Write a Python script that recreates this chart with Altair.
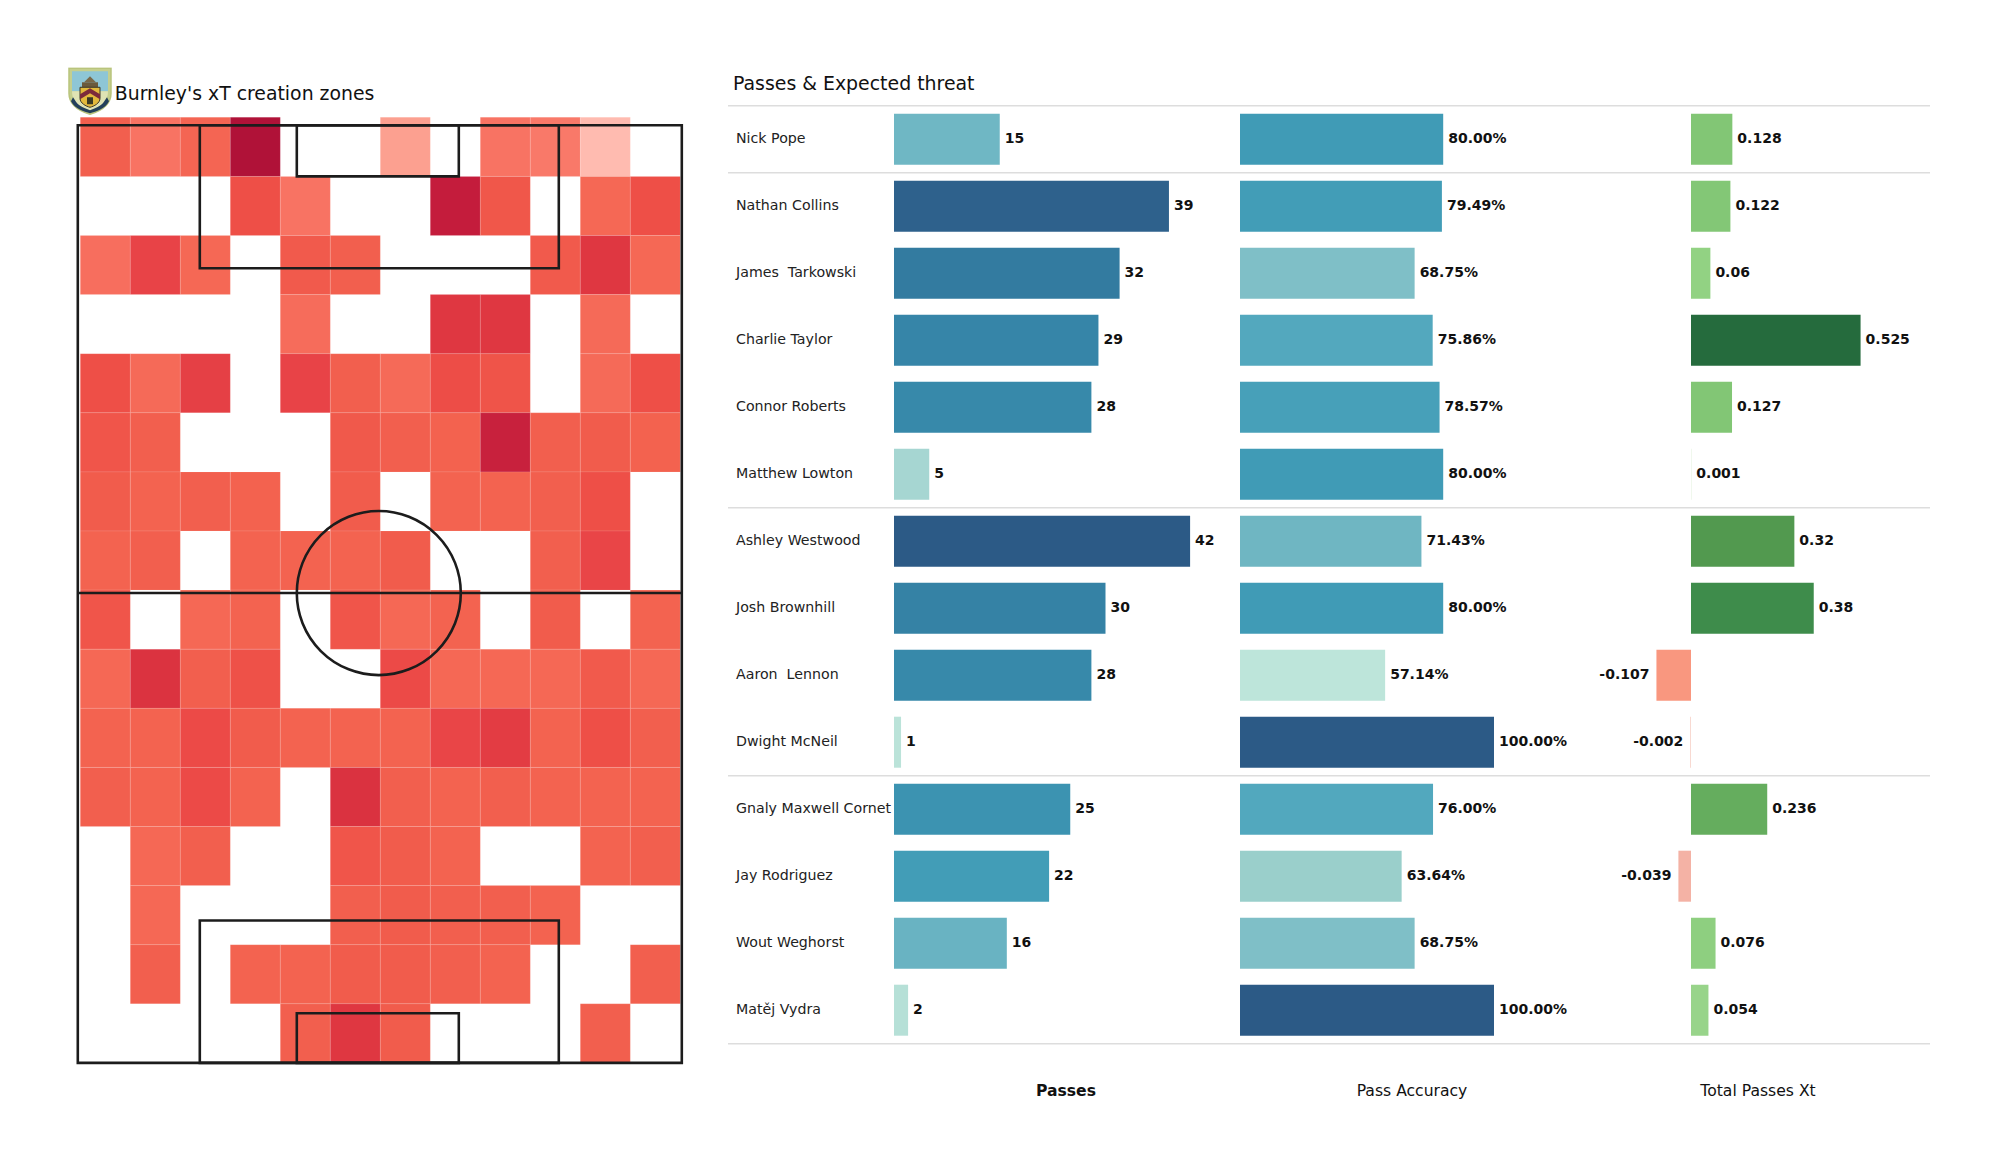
import base64
import altair as alt
import pandas as pd

FONT = "DejaVu Sans"

# ---- heat map (levels, 0 = empty cell)
grid = [
    [4.0, 3.0, 3.6, 10.0, 0, 0, 1.5, 0, 3.0, 2.8, 1.0, 0],
    [0, 0, 0, 5.0, 3.0, 0, 0, 9.0, 4.5, 0, 3.5, 5.0],
    [3.2, 6.0, 3.5, 0, 4.3, 4.0, 0, 0, 0, 4.3, 7.0, 3.5],
    [0, 0, 0, 0, 3.3, 0, 0, 7.0, 7.0, 0, 3.4, 0],
    [5.0, 3.4, 6.3, 0, 6.0, 4.0, 3.4, 5.2, 4.7, 0, 3.4, 5.0],
    [4.6, 4.0, 0, 0, 0, 4.4, 4.0, 3.8, 8.7, 4.0, 4.2, 3.8],
    [4.2, 3.7, 4.0, 3.8, 0, 4.2, 0, 3.7, 3.7, 4.0, 5.0, 0],
    [3.7, 4.0, 0, 3.7, 3.7, 3.7, 4.2, 0, 0, 4.0, 5.8, 0],
    [4.6, 0, 3.5, 3.7, 0, 4.6, 3.5, 3.7, 0, 4.2, 0, 3.7],
    [3.5, 7.3, 4.0, 4.9, 0, 0, 5.4, 3.5, 3.5, 3.5, 4.3, 3.5],
    [3.7, 3.7, 5.4, 4.2, 3.7, 3.7, 3.7, 5.8, 6.6, 3.7, 5.0, 4.0],
    [4.0, 3.7, 5.4, 3.7, 0, 7.4, 4.0, 3.7, 4.0, 3.7, 3.7, 3.7],
    [0, 3.5, 4.0, 0, 0, 4.6, 4.2, 3.7, 0, 0, 3.7, 4.0],
    [0, 3.5, 0, 0, 0, 4.0, 4.2, 4.0, 4.0, 3.7, 0, 0],
    [0, 4.0, 0, 3.7, 3.7, 4.2, 4.2, 4.0, 3.7, 0, 0, 4.0],
    [0, 0, 0, 0, 4.0, 7.0, 4.2, 0, 0, 0, 4.0, 0],
]
heat_levels = [1.0, 1.5, 3.0, 3.7, 5.0, 6.0, 7.0, 9.0, 10.0]
heat_colors = ["#ffbbb0", "#fca090", "#f87363", "#f36350", "#ee4f47", "#e84347", "#df3741", "#c41c3c", "#b01238"]

# pitch outline, in heat-map cell units
pitch_boxes = [
    (-0.05, 0.135, 12.03, 16.0),
    (2.39, 0.135, 9.57, 2.555),
    (4.33, 0.135, 7.57, 1.0),
    (2.39, 13.59, 9.57, 16.0),
    (4.33, 15.16, 7.57, 16.0),
]
halfway_y = 8.05
centre_x = 5.97

# ---- player table
players = ["Nick Pope", "Nathan Collins", "James \u00a0Tarkowski", "Charlie Taylor", "Connor Roberts",
           "Matthew Lowton", "Ashley Westwood", "Josh Brownhill", "Aaron \u00a0Lennon", "Dwight McNeil",
           "Gnaly Maxwell Cornet", "Jay Rodriguez", "Wout Weghorst", "Matěj Vydra"]
passes = [15, 39, 32, 29, 28, 5, 42, 30, 28, 1, 25, 22, 16, 2]
accuracy = [80.00, 79.49, 68.75, 75.86, 78.57, 80.00, 71.43, 80.00, 57.14, 100.00, 76.00, 63.64, 68.75, 100.00]
threat = [0.128, 0.122, 0.06, 0.525, 0.127, 0.001, 0.32, 0.38, -0.107, -0.002, 0.236, -0.039, 0.076, 0.054]
threat_text = ["0.128", "0.122", "0.06", "0.525", "0.127", "0.001", "0.32", "0.38", "-0.107", "-0.002",
               "0.236", "-0.039", "0.076", "0.054"]
separators = [-0.5, 0.5, 5.5, 9.5, 13.5]
headers = ["Passes", "Pass Accuracy", "Total Passes Xt"]

passes_dom = [1, 5, 15, 22, 28, 32, 39, 42]
passes_rng = ["#bbe3d9", "#a6d6d2", "#6fb7c4", "#429db7", "#3789aa", "#337ba0", "#2e618c", "#2c5a86"]
acc_dom = [57.14, 63.64, 68.75, 71.43, 76, 80, 100]
acc_rng = ["#bde5da", "#9acfcb", "#7fbfc7", "#6fb6c2", "#52a8be", "#409bb6", "#2c5a86"]
xt_dom = [-0.107, -0.039, -0.002, 0.001, 0.06, 0.127, 0.236, 0.32, 0.38, 0.525]
xt_rng = ["#f9977f", "#f4b2a5", "#f4c4b8", "#cfe8c8", "#92d283", "#82c675", "#65ad5e", "#52994f", "#3e8c4b", "#256b3d"]

# ---- layout (page pixels)
PANEL_TOP, PANEL_H = 8, 1100
PITCH_LEFT, PITCH_W = 8, 700
STATS_LEFT, STATS_W = 708, 1284
CELL_X0, CELL_W, CELL_Y0, CELL_H = 80.3, 50.0, 117.3, 59.1
ROW_Y0, ROW_H = 139.2, 67.0
BAR_H = 51


def domain(zero_px, px_per_unit, left, size):
    return [(left - zero_px) / px_per_unit, (left + size - zero_px) / px_per_unit]


def pitch_x():
    return alt.Scale(domain=domain(CELL_X0, CELL_W, PITCH_LEFT, PITCH_W), nice=False, zero=False)


def pitch_y():
    lo, hi = domain(CELL_Y0, CELL_H, PANEL_TOP, PANEL_H)
    return alt.Scale(domain=[lo, hi], reverse=True, nice=False, zero=False)


def row_y():
    lo, hi = domain(ROW_Y0, ROW_H, PANEL_TOP, PANEL_H)
    return alt.Scale(domain=[lo, hi], reverse=True, nice=False, zero=False, padding=0)


# ---- pitch panel
cells = pd.DataFrame(
    [{"c": c, "c2": c + 1, "r": r, "r2": r + 1, "v": v}
     for r, row in enumerate(grid) for c, v in enumerate(row) if v > 0]
)
heat = alt.Chart(cells).mark_rect(stroke="#ffffff", strokeWidth=0.6, strokeOpacity=0.18).encode(
    x=alt.X("c:Q", scale=pitch_x(), axis=None),
    x2="c2:Q",
    y=alt.Y("r:Q", scale=pitch_y(), axis=None),
    y2="r2:Q",
    color=alt.Color("v:Q", scale=alt.Scale(domain=heat_levels, range=heat_colors), legend=None),
)
boxes = pd.DataFrame(pitch_boxes, columns=["a", "b", "a2", "b2"])
box_marks = alt.Chart(boxes).mark_rect(fillOpacity=0, stroke="#1c1c1c", strokeWidth=2.6).encode(
    x=alt.X("a:Q", scale=pitch_x(), axis=None),
    x2="a2:Q",
    y=alt.Y("b:Q", scale=pitch_y(), axis=None),
    y2="b2:Q",
)
half = alt.Chart(pd.DataFrame({"a": [-0.05], "a2": [12.03], "b": [halfway_y]})).mark_rule(
    color="#1c1c1c", strokeWidth=2.6
).encode(
    x=alt.X("a:Q", scale=pitch_x(), axis=None),
    x2="a2:Q",
    y=alt.Y("b:Q", scale=pitch_y(), axis=None),
)
centre = alt.Chart(pd.DataFrame({"a": [centre_x], "b": [halfway_y]})).mark_point(
    shape="circle", filled=False, size=164 ** 2, color="#1c1c1c", strokeWidth=2.6, opacity=1
).encode(
    x=alt.X("a:Q", scale=pitch_x(), axis=None),
    y=alt.Y("b:Q", scale=pitch_y(), axis=None),
)
title_left = alt.Chart(pd.DataFrame({"a": [0.69], "b": [-0.39], "t": ["Burnley's xT creation zones"]})).mark_text(
    font=FONT, fontSize=18.85, align="left", baseline="middle", color="#111111"
).encode(
    x=alt.X("a:Q", scale=pitch_x(), axis=None),
    y=alt.Y("b:Q", scale=pitch_y(), axis=None),
    text="t:N",
)

crest_svg = """<svg xmlns='http://www.w3.org/2000/svg' width='44' height='48' viewBox='0 0 44 48'>
<path d='M1 1H43V26C43 38 32 44 22 47C12 44 1 38 1 26Z' fill='#c5cf8e' stroke='#b9c47c' stroke-width='1.5'/>
<path d='M4 4H40V24H4Z' fill='#8ec6d6'/>
<path d='M4 24H40C40 36 30 41 22 44C14 41 4 36 4 24Z' fill='#dfe3b4'/>
<rect x='14' y='15' width='16' height='5' fill='#6b5a3c'/><path d='M16 15L22 9L28 15Z' fill='#7a6848'/>
<path d='M12 20H32V31C32 36 26 39 22 40C18 39 12 36 12 31Z' fill='#e2b93c' stroke='#3a3524'/>
<path d='M12 27L22 21L32 27V32L22 26L12 32Z' fill='#7c2b3a'/>
<path d='M19 30H25V37H19Z' fill='#3a3a24'/>
<path d='M5 30C8 34 9 38 17 41L22 43L27 41C35 38 36 34 39 30L41 34C37 42 28 44 22 46C16 44 7 42 3 34Z' fill='#23405a'/>
</svg>"""
crest_url = "data:image/svg+xml;base64," + base64.b64encode(crest_svg.encode()).decode()
crest = alt.Chart(pd.DataFrame({"a": [0.194], "b": [-0.44], "u": [crest_url]})).mark_image(
    width=44, height=48
).encode(
    x=alt.X("a:Q", scale=pitch_x(), axis=None),
    y=alt.Y("b:Q", scale=pitch_y(), axis=None),
    url="u:N",
)

pitch = alt.layer(heat, box_marks, half, centre, crest, title_left).properties(width=PITCH_W, height=PANEL_H)

# ---- stats panel
df = pd.DataFrame({"row": range(len(players)), "player": players, "passes": passes, "accuracy": accuracy,
                   "threat": threat, "threat_text": threat_text})
df["accuracy_text"] = df["accuracy"].map(lambda v: f"{v:.2f}%")
Y = alt.Y("row:Q", scale=row_y(), axis=None)


def bar_layers(field, zero_px, px_per_unit, color_dom, color_rng):
    sc = alt.Scale(domain=domain(zero_px, px_per_unit, STATS_LEFT, STATS_W), nice=False, zero=False)
    return alt.Chart(df).mark_bar(size=BAR_H, orient="horizontal").encode(
        x=alt.X(f"{field}:Q", scale=sc, axis=None),
        x2=alt.X2(datum=0),
        y=Y,
        color=alt.Color(f"{field}:Q", scale=alt.Scale(domain=color_dom, range=color_rng), legend=None),
    ), sc


passes_bar, passes_sc = bar_layers("passes", 894, 7.05, passes_dom, passes_rng)
acc_bar, acc_sc = bar_layers("accuracy", 1240, 2.54, acc_dom, acc_rng)
xt_bar, xt_sc = bar_layers("threat", 1691, 323.0, xt_dom, xt_rng)

passes_lab = alt.Chart(df).mark_text(font=FONT, fontSize=14, fontWeight="bold", align="left", baseline="middle",
                                     dx=5, color="#111111").encode(
    x=alt.X("passes:Q", scale=passes_sc, axis=None), y=Y, text="passes:Q")
acc_lab = alt.Chart(df).mark_text(font=FONT, fontSize=14, fontWeight="bold", align="left", baseline="middle",
                                  dx=5, color="#111111").encode(
    x=alt.X("accuracy:Q", scale=acc_sc, axis=None), y=Y, text="accuracy_text:N")
xt_pos = alt.Chart(df[df.threat >= 0]).mark_text(font=FONT, fontSize=14, fontWeight="bold", align="left",
                                                 baseline="middle", dx=5, color="#111111").encode(
    x=alt.X("threat:Q", scale=xt_sc, axis=None), y=Y, text="threat_text:N")
xt_neg = alt.Chart(df[df.threat < 0]).mark_text(font=FONT, fontSize=14, fontWeight="bold", align="right",
                                                baseline="middle", dx=-7, color="#111111").encode(
    x=alt.X("threat:Q", scale=xt_sc, axis=None), y=Y, text="threat_text:N")

names = alt.Chart(df).mark_text(font=FONT, fontSize=14.2, align="left", baseline="middle", color="#222222").encode(
    x=alt.value(736 - STATS_LEFT), y=Y, text="player:N")

rules = alt.Chart(pd.DataFrame({"row": separators})).mark_rule(color="#dddddd", strokeWidth=1.4).encode(
    x=alt.value(728 - STATS_LEFT), x2=alt.value(1930 - STATS_LEFT), y=Y)

title_right = alt.Chart(pd.DataFrame({"row": [-0.82], "t": ["Passes & Expected threat"]})).mark_text(
    font=FONT, fontSize=18.9, align="left", baseline="middle", color="#111111"
).encode(x=alt.value(733 - STATS_LEFT), y=Y, text="t:N")


def header(text, page_x, weight):
    return alt.Chart(pd.DataFrame({"row": [14.2], "t": [text]})).mark_text(
        font=FONT, fontSize=15.6, fontWeight=weight, align="center", baseline="middle", color="#111111"
    ).encode(x=alt.value(page_x - STATS_LEFT), y=Y, text="t:N")


stats = alt.layer(
    rules, names, title_right,
    passes_bar, passes_lab, acc_bar, acc_lab, xt_bar, xt_pos, xt_neg,
    header(headers[0], 1066, "bold"), header(headers[1], 1412, "normal"), header(headers[2], 1758, "normal"),
).resolve_scale(x="independent", color="independent").properties(width=STATS_W, height=PANEL_H)

chart = alt.hconcat(pitch, stats, spacing=0, bounds="flush").properties(
    padding=0, background="#ffffff"
).configure_view(stroke=None)

chart.save("out.html", embed_options={"renderer": "svg", "actions": False})
